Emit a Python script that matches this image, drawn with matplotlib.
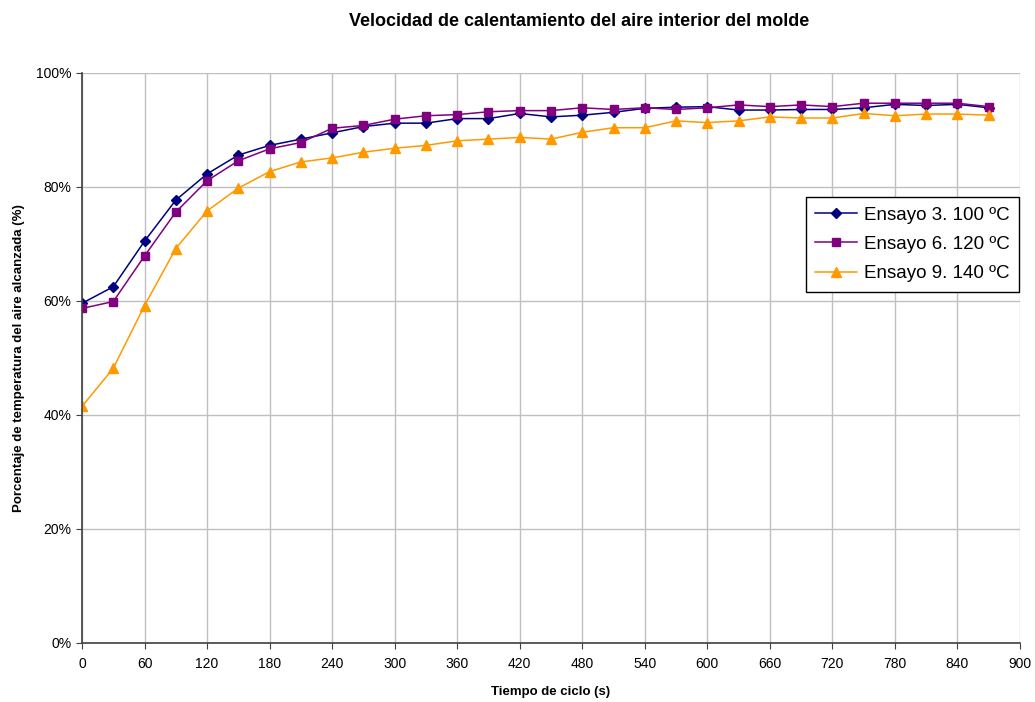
import numpy as np
import matplotlib.pyplot as plt
from matplotlib.ticker import FuncFormatter

plt.rcParams['font.family'] = ['Liberation Sans', 'DejaVu Sans']

tiempo = list(range(0, 900, 30))

ensayo3 = [59.6, 62.5, 70.5, 77.7, 82.3, 85.6, 87.3, 88.4, 89.5, 90.6,
           91.2, 91.2, 92.0, 92.0, 92.9, 92.3, 92.6, 93.1, 93.8, 94.0,
           94.1, 93.5, 93.5, 93.6, 93.6, 93.9, 94.5, 94.3, 94.5, 93.9]
ensayo6 = [58.7, 59.9, 67.9, 75.6, 81.1, 84.6, 86.7, 87.8, 90.3, 90.8,
           91.9, 92.5, 92.7, 93.2, 93.4, 93.4, 93.9, 93.6, 93.9, 93.6,
           93.9, 94.4, 94.1, 94.4, 94.1, 94.7, 94.7, 94.7, 94.7, 94.1]
ensayo9 = [41.5, 48.2, 59.2, 69.2, 75.8, 79.8, 82.7, 84.4, 85.1, 86.1,
           86.8, 87.3, 88.1, 88.4, 88.7, 88.4, 89.6, 90.4, 90.4, 91.6,
           91.3, 91.6, 92.3, 92.1, 92.1, 92.9, 92.5, 92.8, 92.8, 92.6]

labels = ["Ensayo 3. 100 ºC", "Ensayo 6. 120 ºC", "Ensayo 9. 140 ºC"]
colors = ["#000080", "#800080", "#FF9900"]
markers = ["D", "s", "^"]
msizes = [5.5, 6, 7]

fig = plt.figure(figsize=(10.35, 7.02), dpi=100)
ax = fig.add_axes([82/1035, 1 - 643/702, 938/1035, 570/702])

for serie, lab, c, m, ms in zip([ensayo3, ensayo6, ensayo9], labels, colors, markers, msizes):
    ax.plot(tiempo, np.array(serie) / 100, color=c, marker=m, markersize=ms, lw=1.1, label=lab)

ax.set_xlim(0, 900)
ax.set_ylim(0, 1)
ax.set_xticks(range(0, 901, 60))
ax.set_yticks(np.arange(0, 1.01, 0.2))
ax.yaxis.set_major_formatter(FuncFormatter(lambda v, p: f"{v*100:.0f}%"))
ax.grid(True, color="#c0c0c0", lw=1)
ax.set_axisbelow(True)
for s in ["top", "right"]:
    ax.spines[s].set_visible(False)
for s in ["left", "bottom"]:
    ax.spines[s].set_color("#404040")
    ax.spines[s].set_linewidth(1.2)
ax.tick_params(labelsize=10, length=4, color="#404040")
ax.tick_params(axis="x", pad=6)

ax.set_xlabel("Tiempo de ciclo (s)", fontsize=9.5, fontweight="bold", labelpad=11)
ax.set_ylabel("Porcentaje de temperatura del aire alcanzada (%)", fontsize=9.5, fontweight="bold", labelpad=8)
fig.suptitle("Velocidad de calentamiento del aire interior del molde", fontsize=13, fontweight="bold", x=0.56, y=0.982)

leg = ax.legend(loc="upper left", bbox_to_anchor=(724/938, 1 - 124/570), fontsize=13.5,
                frameon=True, fancybox=False, edgecolor="black", framealpha=1,
                handlelength=2.2, borderpad=0.5, labelspacing=0.65, handletextpad=0.4,
                borderaxespad=0)
leg.get_frame().set_linewidth(1)

fig.savefig("out.png", dpi=100)
